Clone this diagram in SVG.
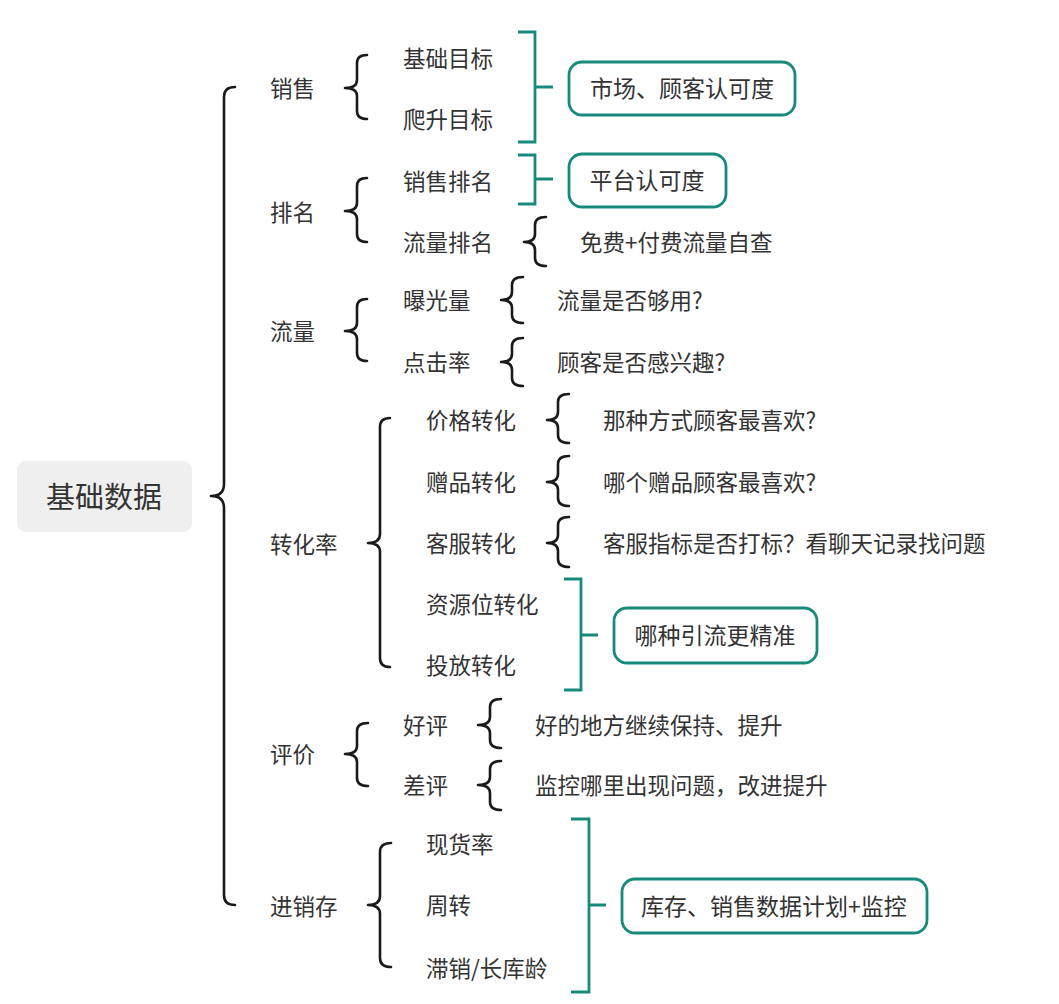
<svg xmlns="http://www.w3.org/2000/svg" width="1059" height="1004" viewBox="0 0 1059 1004">
<style>
text{font-family:"Noto Sans CJK SC","Noto Sans",sans-serif;fill:#333;dominant-baseline:central}
.t{font-size:22.5px}
.root{font-size:29px;text-anchor:middle}
.bx{font-size:23px;text-anchor:middle}
.br{fill:none;stroke:#1a1a1a;stroke-width:2.6;stroke-linecap:round;stroke-linejoin:round}
.tl{fill:none;stroke:#188a7c;stroke-width:2.8}
.box{fill:#fff;stroke:#188a7c;stroke-width:2.8}
</style>
<rect width="1059" height="1004" fill="#fff"/>
<g id="connectors">
<path class="br" d="M235 87 Q224 87 224 97 L224 484 Q224 496 211 496 Q224 496 224 508 L224 895 Q224 905 235 905"/>
<path class="br" d="M367 55 Q357 55 357 63 L357 80 Q357 88 345 88 Q357 88 357 96 L357 111 Q357 119 367 119"/>
<path class="br" d="M367 178 Q357 178 357 186 L357 203 Q357 211 345 211 Q357 211 357 219 L357 234 Q357 242 367 242"/>
<path class="br" d="M367 299 Q357 299 357 307 L357 323 Q357 331 345 331 Q357 331 357 339 L357 353 Q357 361 367 361"/>
<path class="br" d="M390 418 Q380 418 380 427 L380 534 Q380 543 368 543 Q380 543 380 552 L380 658 Q380 667 390 667"/>
<path class="br" d="M368 723 Q357 723 357 731 L357 746 Q357 754 345 754 Q357 754 357 762 L357 778 Q357 786 368 786"/>
<path class="br" d="M391 843 Q380 843 380 852 L380 896 Q380 905 368 905 Q380 905 380 914 L380 958 Q380 967 391 967"/>
<path class="br" d="M546 217 Q535 217 535 225 L535 234 Q535 242 524 242 Q535 242 535 250 L535 258 Q535 266 546 266"/>
<path class="br" d="M523 277 Q512 277 512 285 L512 292 Q512 300 501 300 Q512 300 512 308 L512 315 Q512 323 523 323"/>
<path class="br" d="M523 338 Q512 338 512 346 L512 354 Q512 362 501 362 Q512 362 512 370 L512 378 Q512 386 523 386"/>
<path class="br" d="M569 394 Q558 394 558 402 L558 412 Q558 420 547 420 Q558 420 558 428 L558 435 Q558 443 569 443"/>
<path class="br" d="M569 456 Q558 456 558 464 L558 474 Q558 482 547 482 Q558 482 558 490 L558 498 Q558 506 569 506"/>
<path class="br" d="M569 517 Q558 517 558 525 L558 535 Q558 543 547 543 Q558 543 558 551 L558 559 Q558 567 569 567"/>
<path class="br" d="M501 699 Q490 699 490 707 L490 717 Q490 725 478 725 Q490 725 490 733 L490 740 Q490 748 501 748"/>
<path class="br" d="M501 761 Q490 761 490 769 L490 777 Q490 785 478 785 Q490 785 490 793 L490 802 Q490 810 501 810"/>
<path class="tl" d="M518 32 H535 V142 H518 M535 87 H553"/>
<path class="tl" d="M518 155 H535 V204 H518 M535 179 H553"/>
<path class="tl" d="M564 579 H581 V690 H564 M581 635 H598"/>
<path class="tl" d="M571 819 H589 V992 H571 M589 905 H606"/>
</g>
<g id="root"><rect x="17" y="461" width="175" height="71" rx="9" fill="#efefef"/><text class="root" x="104" y="495">基础数据</text></g>
<g id="n-sales"><text class="t" x="270" y="87">销售</text></g>
<g id="n-rank"><text class="t" x="270" y="211">排名</text></g>
<g id="n-traffic"><text class="t" x="270" y="330">流量</text></g>
<g id="n-conv"><text class="t" x="270" y="543">转化率</text></g>
<g id="n-review"><text class="t" x="270" y="753">评价</text></g>
<g id="n-inv"><text class="t" x="270" y="905">进销存</text></g>
<g id="n-basic"><text class="t" x="403" y="57">基础目标</text></g>
<g id="n-climb"><text class="t" x="403" y="118">爬升目标</text></g>
<g id="n-salesrank"><text class="t" x="403" y="180">销售排名</text></g>
<g id="n-trafficrank"><text class="t" x="403" y="241">流量排名</text></g>
<g id="n-expo"><text class="t" x="403" y="299">曝光量</text></g>
<g id="n-ctr"><text class="t" x="403" y="361">点击率</text></g>
<g id="n-price"><text class="t" x="426" y="419">价格转化</text></g>
<g id="n-gift"><text class="t" x="426" y="481">赠品转化</text></g>
<g id="n-cs"><text class="t" x="426" y="542">客服转化</text></g>
<g id="n-res"><text class="t" x="426" y="603">资源位转化</text></g>
<g id="n-ad"><text class="t" x="426" y="664">投放转化</text></g>
<g id="n-good"><text class="t" x="403" y="724">好评</text></g>
<g id="n-bad"><text class="t" x="403" y="784">差评</text></g>
<g id="n-stock"><text class="t" x="426" y="843">现货率</text></g>
<g id="n-turn"><text class="t" x="426" y="904">周转</text></g>
<g id="n-slow"><text class="t" x="426" y="967">滞销/长库龄</text></g>
<g id="a-trafficrank"><text class="t" x="580" y="241">免费+付费流量自查</text></g>
<g id="a-expo"><text class="t" x="557" y="299">流量是否够用?</text></g>
<g id="a-ctr"><text class="t" x="557" y="361">顾客是否感兴趣?</text></g>
<g id="a-price"><text class="t" x="603" y="419">那种方式顾客最喜欢?</text></g>
<g id="a-gift"><text class="t" x="603" y="481">哪个赠品顾客最喜欢?</text></g>
<g id="a-cs"><text class="t" x="603" y="542">客服指标是否打标？看聊天记录找问题</text></g>
<g id="a-good"><text class="t" x="535" y="724">好的地方继续保持、提升</text></g>
<g id="a-bad"><text class="t" x="535" y="784">监控哪里出现问题，改进提升</text></g>
<g id="b-market"><rect class="box" x="569" y="62" width="226" height="53" rx="13"/><text class="bx" x="682" y="87">市场、顾客认可度</text></g>
<g id="b-platform"><rect class="box" x="569" y="154" width="157" height="53" rx="13"/><text class="bx" x="647" y="179">平台认可度</text></g>
<g id="b-precise"><rect class="box" x="614" y="608" width="203" height="55" rx="13"/><text class="bx" x="715" y="634">哪种引流更精准</text></g>
<g id="b-inv"><rect class="box" x="622" y="879" width="305" height="54" rx="13"/><text class="bx" x="774" y="905">库存、销售数据计划+监控</text></g>
</svg>
